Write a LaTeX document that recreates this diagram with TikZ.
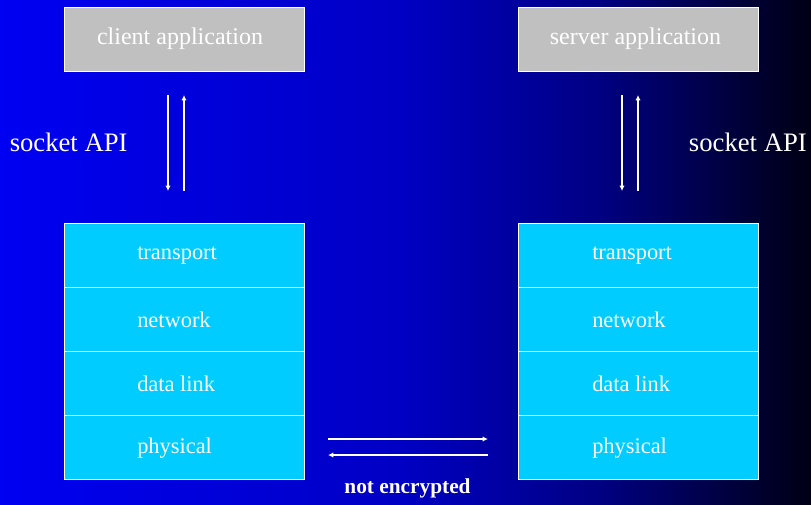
\documentclass[tikz,border=0pt]{standalone}
\usepackage{fontspec}
\setmainfont{Liberation Serif}
\usetikzlibrary{arrows.meta,calc}
\definecolor{layerfill}{HTML}{00CCFF}
\definecolor{appfill}{HTML}{C0C0C0}
\definecolor{bgA}{HTML}{0000F2}
\definecolor{bgB}{HTML}{0000C4}
\definecolor{bgC}{HTML}{000082}
\definecolor{bgD}{HTML}{000014}
\tikzset{
  appbox/.style={draw=white, line width=0.7pt, fill=appfill, minimum width=180pt, minimum height=48pt, inner sep=0pt},
  apptext/.style={text=white, font=\fontsize{18}{20}\selectfont, inner sep=0pt},
  layerbox/.style={draw=white, line width=0.6pt, fill=layerfill, minimum width=180pt, minimum height=48pt, inner sep=0pt},
  layertext/.style={anchor=west, text=white, font=\fontsize{16.8}{20}\selectfont, inner sep=0pt},
  apilabel/.style={text=white, font=\fontsize{20}{22}\selectfont, inner sep=0pt},
  flow/.style={draw=white, line width=0.8pt, -{Latex[length=4pt,width=4pt]}},
}
\begin{document}
\begin{tikzpicture}[x=0.75pt,y=-0.75pt]
\useasboundingbox (0,0) rectangle (811,504);
\shade[left color=bgA, right color=bgB] (0,0) rectangle (400,504);
\shade[left color=bgB, right color=bgC] (399.5,0) rectangle (600,504);
\shade[left color=bgC, right color=bgD] (599.5,0) rectangle (811,504);

% applications
\node[appbox] (capp) at (184,39) {};
\node[appbox] (sapp) at (638,39) {};
\node[apptext] (cappl) at (180,39) {client application};
\node[apptext] (sappl) at (635.5,39) {server application};

% left stack
\node[layerbox] (ct) at (184,255) {};
\node[layerbox] (cn) at (184,319) {};
\node[layerbox] (cd) at (184,383) {};
\node[layerbox] (cp) at (184,447) {};
\node[layertext] (ctl) at (137,256) {transport};
\node[layertext] (cnl) at (137,320) {network};
\node[layertext] (cdl) at (137,384) {data link};
\node[layertext] (cpl) at (137,448) {physical};

% right stack
\node[layerbox] (st) at (638,255) {};
\node[layerbox] (sn) at (638,319) {};
\node[layerbox] (sd) at (638,383) {};
\node[layerbox] (sp) at (638,447) {};
\node[layertext] (stl) at (592,256) {transport};
\node[layertext] (snl) at (592,320) {network};
\node[layertext] (sdl) at (592,384) {data link};
\node[layertext] (spl) at (592,448) {physical};

% socket API labels
\node[apilabel, anchor=west] (capi) at (9.5,142) {socket API};
\node[apilabel, anchor=east] (sapi) at (807,142) {socket API};

% arrow end points
\coordinate (cdt) at (168,95);
\coordinate (cdb) at (168,191);
\coordinate (cut) at (184,95);
\coordinate (cub) at (184,191);
\coordinate (sdt) at (622,95);
\coordinate (sdb) at (622,191);
\coordinate (sut) at (638,95);
\coordinate (sub) at (638,191);
\coordinate (rl) at (328,439);
\coordinate (rr) at (488,439);
\coordinate (ll) at (328,455);
\coordinate (lr) at (488,455);

\draw[flow] (cdt) -- (cdb);
\draw[flow] (cub) -- (cut);
\draw[flow] (sdt) -- (sdb);
\draw[flow] (sub) -- (sut);
\draw[flow] (rl) -- (rr);
\draw[flow] (lr) -- (ll);

\node[text=white, font=\fontsize{16}{18}\selectfont\bfseries, inner sep=0pt] (ne) at (407.5,488) {not encrypted};
\end{tikzpicture}
\end{document}
